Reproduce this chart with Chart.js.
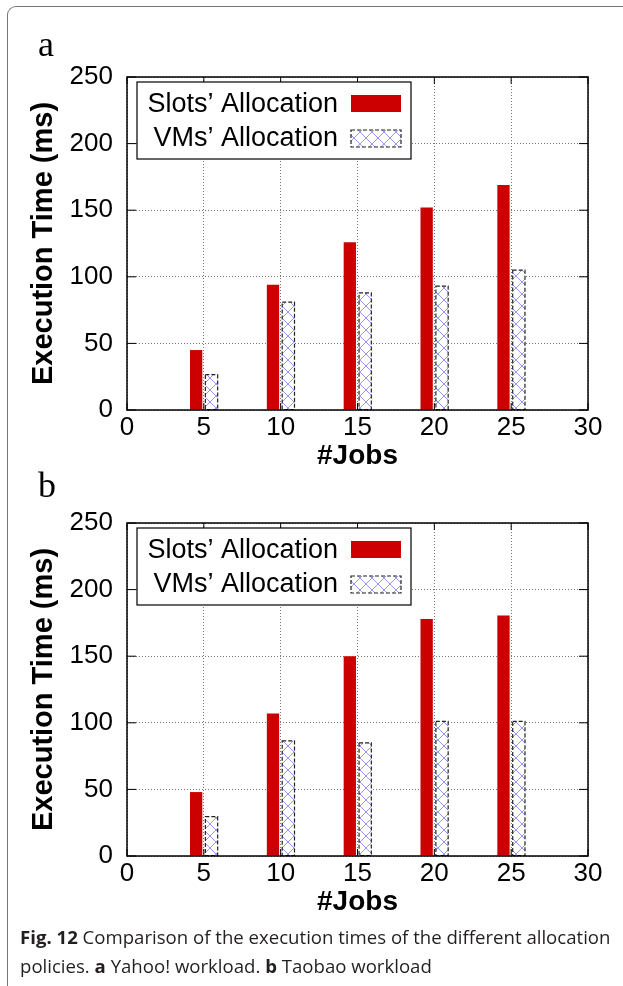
<!DOCTYPE html>
<html>
<head>
<meta charset="utf-8">
<script src="https://cdn.jsdelivr.net/npm/chart.js@4.4.1/dist/chart.umd.min.js"></script>
<style>
  html, body { margin: 0; padding: 0; background: #fff; }
  body { width: 623px; height: 986px; position: relative; overflow: hidden; }
  .frame { position: absolute; left: 7px; top: 6px; width: 700px; height: 1100px;
           border-top: 1.5px solid #777; border-left: 1.5px solid #777; border-top-left-radius: 9px; }
  .panel { position: absolute; left: 0; width: 623px; height: 480px; }
  .caption { position: absolute; left: 20px; top: 922px; width: 603px;
             font-family: "Open Sans", sans-serif; font-size: 18.6px; line-height: 29px; color: #231f20; }
  .caption b { font-weight: 700; }
</style>
</head>
<body>
<div class="frame"></div>
<div class="panel" style="top:0px"><canvas id="chartA" width="623" height="480"></canvas></div>
<div class="panel" style="top:446px"><canvas id="chartB" width="623" height="480"></canvas></div>
<div class="caption"><b>Fig. 12</b> Comparison of the execution times of the different allocation<br>policies. <b>a</b> Yahoo! workload. <b>b</b> Taobao workload</div>

<script>
// 工作數量 (x 軸)
const jobs = [5, 10, 15, 20, 25];
// (a) Yahoo! workload
const slotsYahoo = [45, 94, 126, 152, 169];
const vmsYahoo = [26.5, 81, 88, 93, 105];
// (b) Taobao workload
const slotsTaobao = [48, 107, 150, 178, 180.5];
const vmsTaobao = [29.5, 86.5, 85, 101, 101];

const seriesNames = ['Slots\u2019 Allocation', 'VMs\u2019 Allocation'];
const xTitle = '#Jobs';
const yTitle = 'Execution Time (ms)';

const RED = '#cc0000';

// 交叉斜線填充
function makeHatch() {
    const c = document.createElement('canvas');
    c.width = 12;
    c.height = 12;
    const g = c.getContext('2d');
    g.fillStyle = '#fff';
    g.fillRect(0, 0, 12, 12);
    g.strokeStyle = 'rgba(80, 80, 235, 0.75)';
    g.lineWidth = 0.8;
    g.beginPath();
    g.moveTo(0, 0); g.lineTo(12, 12);
    g.moveTo(12, 0); g.lineTo(0, 12);
    g.stroke();
    return c;
}
const hatchCanvas = makeHatch();

function dashedRect(ctx, x, y, w, h) {
    ctx.save();
    ctx.setLineDash([4, 2]);
    ctx.strokeStyle = '#222';
    ctx.lineWidth = 1.2;
    ctx.strokeRect(x, y, w, h);
    ctx.restore();
}

// gnuplot 風格：外框、內向刻度、圖例、面板字母
const gnuplotStyle = {
    id: 'gnuplotStyle',
    afterDatasetsDraw(chart, args, opts) {
        const ctx = chart.ctx;
        const area = chart.chartArea;
        const pattern = ctx.createPattern(hatchCanvas, 'repeat');

        // 虛線外框
        chart.getDatasetMeta(1).data.forEach(bar => {
            const p = bar.getProps(['x', 'y', 'base', 'width'], true);
            dashedRect(ctx, p.x - p.width / 2, p.y, p.width, p.base - p.y);
        });

        // 外框
        ctx.save();
        ctx.strokeStyle = '#000';
        ctx.lineWidth = 1.5;
        ctx.strokeRect(area.left, area.top, area.right - area.left, area.bottom - area.top);
        const xs = chart.scales.x, ys = chart.scales.y;
        ctx.lineWidth = 1;
        ctx.beginPath();
        xs.ticks.forEach(t => {
            const px = xs.getPixelForValue(t.value);
            ctx.moveTo(px, area.bottom); ctx.lineTo(px, area.bottom - 7);
            ctx.moveTo(px, area.top); ctx.lineTo(px, area.top + 7);
        });
        ys.ticks.forEach(t => {
            const py = ys.getPixelForValue(t.value);
            ctx.moveTo(area.left, py); ctx.lineTo(area.left + 9, py);
            ctx.moveTo(area.right, py); ctx.lineTo(area.right - 9, py);
        });
        ctx.stroke();

        // 圖例
        const lx = area.left + 10, ly = area.top + 5;
        ctx.fillStyle = '#fff';
        ctx.fillRect(lx, ly, 274, 77);
        ctx.strokeStyle = '#000';
        ctx.lineWidth = 1.2;
        ctx.strokeRect(lx, ly, 274, 77);
        ctx.fillStyle = '#000';
        ctx.font = '27px "Liberation Sans", Arial, sans-serif';
        ctx.textAlign = 'right';
        ctx.textBaseline = 'alphabetic';
        ctx.fillText(seriesNames[0], lx + 201, ly + 30);
        ctx.fillText(seriesNames[1], lx + 201, ly + 64);
        ctx.fillStyle = RED;
        ctx.fillRect(lx + 214, ly + 13, 50, 17);
        ctx.fillStyle = pattern;
        ctx.fillRect(lx + 214, ly + 48, 50, 17);
        dashedRect(ctx, lx + 214, ly + 48, 50, 17);

        // 面板字母
        ctx.fillStyle = '#000';
        ctx.textAlign = 'left';
        ctx.font = '36px "Liberation Serif", "Times New Roman", serif';
        ctx.fillText(opts.letter, 38, opts.letterY);
        ctx.restore();
    }
};

function makeChart(id, slots, vms, letter, letterY) {
    const ctx = document.getElementById(id).getContext('2d');
    const pattern = ctx.createPattern(hatchCanvas, 'repeat');
    return new Chart(ctx, {
        type: 'bar',
        data: {
            datasets: [{
                label: seriesNames[0],
                data: jobs.map((x, i) => ({ x: x, y: slots[i] })),
                backgroundColor: RED,
                borderWidth: 0
            }, {
                label: seriesNames[1],
                data: jobs.map((x, i) => ({ x: x, y: vms[i] })),
                backgroundColor: pattern,
                borderWidth: 0
            }]
        },
        options: {
            responsive: false,
            animation: false,
            events: [],
            categoryPercentage: 0.4,
            barPercentage: 0.8,
            layout: { padding: { left: 0, top: 77, right: 35, bottom: 0 } },
            plugins: {
                legend: { display: false },
                tooltip: { enabled: false },
                gnuplotStyle: { letter: letter, letterY: letterY }
            },
            scales: {
                x: {
                    type: 'linear',
                    offset: false,
                    min: 0,
                    max: 30,
                    ticks: {
                        stepSize: 5,
                        color: '#000',
                        padding: 2,
                        font: { family: '"Liberation Sans", Arial, sans-serif', size: 26 }
                    },
                    grid: { offset: false, color: '#777', lineWidth: 1, drawTicks: false, borderDash: [1, 2] },
                    border: { display: false, dash: [1, 2] },
                    title: {
                        display: true,
                        text: xTitle,
                        color: '#000',
                        padding: { top: 0, bottom: 7 },
                        font: { family: '"Liberation Sans", Arial, sans-serif', size: 28, weight: 'bold' }
                    },
                    afterFit(scale) { scale.height = 70; }
                },
                y: {
                    min: 0,
                    max: 250,
                    ticks: {
                        stepSize: 50,
                        color: '#000',
                        padding: 14,
                        font: { family: '"Liberation Sans", Arial, sans-serif', size: 26 }
                    },
                    grid: { color: '#777', lineWidth: 1, drawTicks: false, borderDash: [1, 2] },
                    border: { display: false, dash: [1, 2] },
                    title: {
                        display: true,
                        text: yTitle,
                        color: '#000',
                        padding: { top: 27, bottom: 0 },
                        font: { family: '"Liberation Sans", Arial, sans-serif', size: 29, weight: 'bold' }
                    },
                    afterFit(scale) { scale.width = 127; }
                }
            }
        },
        plugins: [gnuplotStyle]
    });
}

makeChart('chartA', slotsYahoo, vmsYahoo, 'a', 56);
makeChart('chartB', slotsTaobao, vmsTaobao, 'b', 51);
</script>
</body>
</html>
